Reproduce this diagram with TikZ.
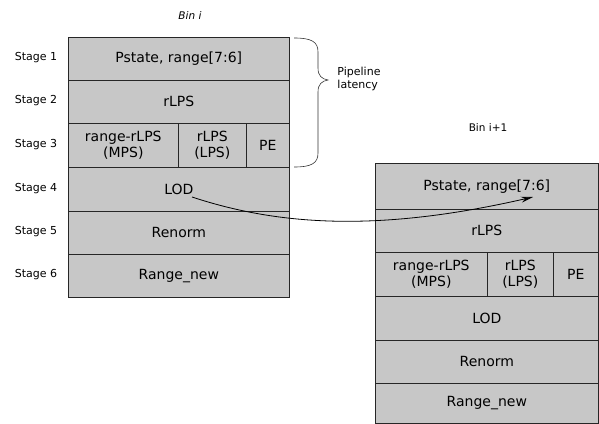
\documentclass[tikz,border=0pt]{standalone}
\usepackage{fontspec}
\setmainfont{DejaVu Sans}
\usetikzlibrary{arrows.meta}
\tikzset{
  cell/.style={draw=black!85, line width=0.6pt, fill=black!22, inner sep=0pt,
    anchor=north west, align=center, font=\fontsize{14}{16}\selectfont},
  stagelbl/.style={font=\fontsize{11}{13}\selectfont},
  binlbl/.style={font=\fontsize{10.5}{12}\selectfont},
  latlbl/.style={font=\fontsize{11}{13}\selectfont, align=left},
  flow/.style={-{Stealth[length=12pt,width=6pt]}, line width=0.8pt, black},
  bracestyle/.style={line width=0.6pt, black!80}
}
\begin{document}
\begin{tikzpicture}[x=1pt,y=-1pt]
\useasboundingbox (0,0) rectangle (599,423);
% ---------- Bin i ----------
\node[binlbl] (bini) at (190,16) {\itshape Bin i};
\node[cell, minimum width=221pt, minimum height=43pt] (a1) at (68,37) {Pstate, range[7:6]};
\node[cell, minimum width=221pt, minimum height=43pt] (a2) at (68,80) {rLPS};
\node[cell, minimum width=110pt, minimum height=44pt] (a3a) at (68,123) {range-rLPS\\(MPS)};
\node[cell, minimum width=68pt, minimum height=44pt] (a3b) at (178,123) {rLPS\\(LPS)};
\node[cell, minimum width=43pt, minimum height=44pt] (a3c) at (246,123) {PE};
\node[cell, minimum width=221pt, minimum height=44pt] (a4) at (68,167) {LOD};
\node[cell, minimum width=221pt, minimum height=43pt] (a5) at (68,211) {Renorm};
\node[cell, minimum width=221pt, minimum height=43pt] (a6) at (68,254) {Range\_new};
% stage labels
\node[stagelbl] (s1) at (36,58) {Stage 1};
\node[stagelbl] (s2) at (36,101) {Stage 2};
\node[stagelbl] (s3) at (36,145) {Stage 3};
\node[stagelbl] (s4) at (36,189) {Stage 4};
\node[stagelbl] (s5) at (36,232) {Stage 5};
\node[stagelbl] (s6) at (36,275) {Stage 6};
% brace
\draw[bracestyle] (294,38) .. controls (312,38) and (318,42) .. (318,52)
  -- (318,68) .. controls (318,76) and (322,79) .. (328,80)
  .. controls (322,81) and (318,84) .. (318,92)
  -- (318,153) .. controls (318,163) and (312,167) .. (294,167);
\node[latlbl] (lat) at (359,79) {Pipeline\\latency};
% ---------- Bin i+1 ----------
\node[binlbl] (binj) at (488,128) {Bin i+1};
\node[cell, minimum width=223pt, minimum height=46pt] (b1) at (375,163) {Pstate, range[7:6]};
\node[cell, minimum width=223pt, minimum height=43pt] (b2) at (375,209) {rLPS};
\node[cell, minimum width=112pt, minimum height=44pt] (b3a) at (375,252) {range-rLPS\\(MPS)};
\node[cell, minimum width=66pt, minimum height=44pt] (b3b) at (487,252) {rLPS\\(LPS)};
\node[cell, minimum width=45pt, minimum height=44pt] (b3c) at (553,252) {PE};
\node[cell, minimum width=223pt, minimum height=44pt] (b4) at (375,296) {LOD};
\node[cell, minimum width=223pt, minimum height=43pt] (b5) at (375,340) {Renorm};
\node[cell, minimum width=223pt, minimum height=40pt] (b6) at (375,383) {Range\_new};
% ---------- arrow ----------
\coordinate (from) at (192,197);
\coordinate (to) at (533,197);
\draw[flow] (from) .. controls (280,226) and (380,232) .. (to);
\end{tikzpicture}
\end{document}
